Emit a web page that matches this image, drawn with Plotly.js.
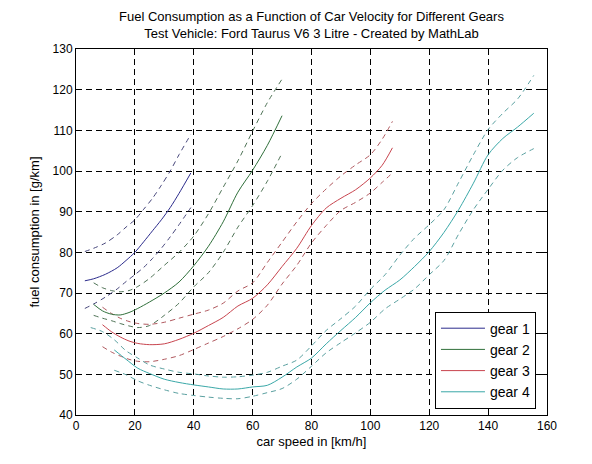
<!DOCTYPE html>
<html>
<head>
<meta charset="utf-8">
<script src="https://cdn.plot.ly/plotly-3.0.1.min.js"></script>
<style>
html,body{margin:0;padding:0;background:#fff;}
#chart{width:592px;height:464px;}
</style>
</head>
<body>
<div id="chart"></div>
<script>
// Gear 1
var g1Speed = [3, 6, 10, 14, 17, 20, 23, 26, 29, 32, 35, 39];
var g1Mean  = [73, 73.5, 74.6, 76.2, 78, 80, 82.6, 85.3, 88, 91, 94.5, 99.5];
var g1Upper = [80.2, 81, 82.3, 84.3, 86.2, 88, 90.6, 93.3, 96.5, 100, 104, 109];
var g1Lower = [66.2, 67.3, 69, 71, 72.8, 74.5, 76.3, 78.5, 81, 83.8, 86.8, 91];

// Gear 2
var g2Speed = [6, 9, 12, 15, 18, 21, 25, 30, 35, 40, 45, 50, 55, 60, 65, 70];
var g2Mean  = [67.2, 65.6, 64.8, 64.6, 65.2, 66.2, 67.8, 70, 72.7, 76.7, 81.5, 87.5, 94.8, 100.2, 106.3, 113.6];
var g2Upper = [72.5, 71.3, 70.6, 70.3, 70.6, 71.6, 73.6, 76.8, 80, 84, 89.5, 96, 102.5, 109.8, 116.8, 122.6];
var g2Lower = [64.5, 63.8, 63.2, 62.5, 61.9, 61.5, 62, 64.5, 67.5, 71.5, 75, 80, 86.2, 91.5, 97.5, 104.4];

// Gear 3
var g3Speed = [9, 12, 15, 18, 21, 25, 30, 35, 40, 45, 50, 55, 60, 65, 70, 75, 80, 85, 90, 95, 100, 104, 107.5];
var g3Mean  = [62.2, 60.5, 59.2, 58.2, 57.6, 57.3, 57.5, 58.6, 60.1, 62, 64, 66.8, 68.7, 72, 76.5, 81, 86.6, 90.9, 93.3, 95.4, 98.3, 101.4, 105.7];
var g3Upper = [66.5, 65, 63.8, 63, 62.5, 62.3, 62.8, 63.8, 64.8, 65.8, 67.5, 70.5, 72.5, 77.5, 82.5, 87.5, 92, 95.6, 98.8, 101.5, 104, 107.8, 112.2];
var g3Lower = [56.8, 55.5, 54.5, 53.7, 53.2, 53.1, 53.7, 54.6, 56.1, 57.7, 59.3, 61.2, 63.5, 67, 72.2, 76.8, 82.3, 86.6, 90.3, 92.3, 94.6, 97.2, 99.5];

// Gear 4
var g4Speed = [5, 9, 13, 17, 21, 25, 30, 35, 40, 45, 50, 55, 60, 65, 70, 75, 80, 85, 90, 95, 100, 105, 110, 115, 120, 125, 130, 135, 140, 145, 150, 155.5];
var g4Mean  = [null, null, 56, 53.7, 51.5, 50.2, 48.8, 48, 47.4, 46.9, 46.4, 46.4, 46.9, 47.3, 49.3, 51.8, 54, 57.5, 60.8, 64, 67.6, 70.7, 73.2, 76.5, 80.2, 84.9, 90.5, 97, 104, 108, 110.8, 114.2];
var g4Upper = [61.5, 60.5, 58.5, 55.8, 54, 52.3, 51.3, 50.5, 50.1, 49.6, 49.3, 49.4, 49.8, 50.5, 52, 53.5, 57, 60.8, 63.7, 66.8, 70.9, 74.5, 79.3, 83.5, 86.8, 90.5, 97.2, 104, 110.2, 114.2, 117.7, 123.5];
var g4Lower = [null, null, 51, 49.9, 48.4, 47.3, 46.2, 45.3, 44.8, 44.4, 44.1, 44, 44.6, 45.5, 46.5, 48.8, 52, 55.3, 57.8, 60.2, 62.8, 66.1, 68.5, 71, 74.5, 78, 84.5, 90.5, 95.5, 100.2, 103.3, 105.5];

var gearNames = ['gear 1', 'gear 2', 'gear 3', 'gear 4'];
var xTicks = [0, 20, 40, 60, 80, 100, 120, 140, 160];
var yTicks = [40, 50, 60, 70, 80, 90, 100, 110, 120, 130];

var solidColors = ['#2b2b8c', '#2f6f3a', '#c8444e', '#3aa8a8'];
var dashColors  = ['#45457a', '#4f7356', '#b0585e', '#5aa0a0'];

var gears = [
  [g1Speed, g1Mean, g1Upper, g1Lower],
  [g2Speed, g2Mean, g2Upper, g2Lower],
  [g3Speed, g3Mean, g3Upper, g3Lower],
  [g4Speed, g4Mean, g4Upper, g4Lower]
];

var traces = [];
gears.forEach(function(g, i){
  [g[2], g[3]].forEach(function(yy){
    traces.push({x: g[0], y: yy, type: 'scatter', mode: 'lines', showlegend: false,
      line: {color: dashColors[i], width: 1, dash: '5px,4px', shape: 'spline', smoothing: 0.8},
      hoverinfo: 'skip', connectgaps: false});
  });
});
gears.forEach(function(g, i){
  traces.push({x: g[0], y: g[1], type: 'scatter', mode: 'lines', name: gearNames[i],
    line: {color: solidColors[i], width: 1, shape: 'spline', smoothing: 0.8}, connectgaps: false});
});

var fontFam = 'Liberation Sans, Arial, Helvetica, sans-serif';
var axisCommon = {
  showline: true, linecolor: '#000', linewidth: 1, mirror: 'ticks',
  ticks: 'inside', ticklen: 5, tickcolor: '#000', tickwidth: 1,
  showgrid: true, gridcolor: '#000', gridwidth: 1, griddash: '6px,4px',
  zeroline: false, tickfont: {family: fontFam, size: 12, color: '#000'}
};

var layout = {
  width: 592, height: 464,
  margin: {l: 76, r: 45, t: 49, b: 49, pad: 0},
  paper_bgcolor: '#fff', plot_bgcolor: '#fff',
  title: {
    text: 'Fuel Consumption as a Function of Car Velocity for Different Gears<br>Test Vehicle: Ford Taurus V6 3 Litre - Created by MathLab',
    font: {family: fontFam, size: 13, color: '#000'},
    xref: 'paper', x: 0.5, xanchor: 'center',
    yref: 'container', y: 0.955, yanchor: 'top'
  },
  xaxis: Object.assign({}, axisCommon, {
    range: [0, 160], tickvals: xTicks, ticktext: xTicks.map(String),
    title: {text: 'car speed in [km/h]', font: {family: fontFam, size: 13, color: '#000'}, standoff: 4}
  }),
  yaxis: Object.assign({}, axisCommon, {
    range: [40, 130], tickvals: yTicks, ticktext: yTicks.map(String),
    title: {text: 'fuel consumption in [g/km]', font: {family: fontFam, size: 13, color: '#000'}, standoff: 10}
  }),
  legend: {
    x: 0.9766, xanchor: 'right', y: 0.0175, yanchor: 'bottom',
    bgcolor: '#fff', bordercolor: '#000', borderwidth: 1,
    font: {family: fontFam, size: 14, color: '#000'},
    traceorder: 'normal', tracegroupgap: 0, itemwidth: 44
  },
  hovermode: false,
  showlegend: true
};

Plotly.newPlot('chart', traces, layout, {displayModeBar: false, staticPlot: true});
</script>
</body>
</html>
